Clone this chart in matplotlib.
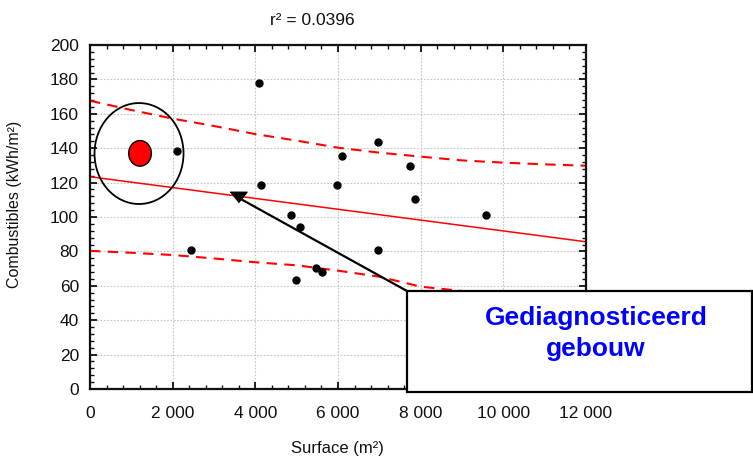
import matplotlib
matplotlib.use("Agg")
import matplotlib.pyplot as plt
from matplotlib.patches import Ellipse, Rectangle, ConnectionPatch
from matplotlib.ticker import MultipleLocator, FixedLocator, FixedFormatter

plt.rcParams['font.family'] = ['Liberation Sans', 'DejaVu Sans']

# ---- data ----
surface = [2100, 2450, 4100, 4140, 4860, 4980, 5070, 5460, 5610, 5980, 6100, 6970, 6970, 7740, 7870, 9590]
combustibles = [138.6, 80.8, 178.1, 118.4, 101.0, 63.4, 94.4, 70.2, 68.2, 118.4, 135.7, 143.4, 80.8, 129.8, 110.5, 101.0]

highlight_x = [1210]
highlight_y = [137]

fit_x = [0, 12000]
fit_y = [123.4, 85.6]

band_x = [0, 1000, 2000, 3000, 4000, 5000, 6000, 7000, 8000, 9000, 10000, 11000, 12000]
band_upper = [167.6, 162.2, 157.2, 152.9, 148.2, 144.4, 140.3, 137.4, 135.1, 132.9, 131.6, 130.6, 129.8]
band_lower = [80.3, 79.2, 77.9, 75.9, 73.7, 71.9, 68.8, 65.3, 59.5, 57.0, 54.0, 49.0, 41.5]

arrow_tip = (3569, 111.5)

x_ticks = [0, 2000, 4000, 6000, 8000, 10000, 12000]
x_ticklabels = ["0", "2 000", "4 000", "6 000", "8 000", "10 000", "12 000"]
y_ticks = [0, 20, 40, 60, 80, 100, 120, 140, 160, 180, 200]

title_text = "r\u00b2 = 0.0396"
xlabel_text = "Surface (m\u00b2)"
ylabel_text = "Combustibles (kWh/m\u00b2)"
box_lines = ["Gediagnosticeerd", "gebouw"]

# ---- figure ----
W, H = 753, 457
fig = plt.figure(figsize=(W / 100, H / 100), dpi=100)
ax = fig.add_axes([90 / W, 1 - 389 / H, (586 - 90) / W, (389 - 45) / H])

ax.set_xlim(0, 12000)
ax.set_ylim(0, 200)

ax.xaxis.set_major_locator(FixedLocator(x_ticks))
ax.xaxis.set_major_formatter(FixedFormatter(x_ticklabels))
ax.yaxis.set_major_locator(FixedLocator(y_ticks))
ax.xaxis.set_minor_locator(MultipleLocator(400))
ax.yaxis.set_minor_locator(MultipleLocator(4))

ax.tick_params(which='both', direction='in', top=True, right=True, labelsize=12.5, colors='#111111')
ax.tick_params(which='major', length=5, width=1.3)
ax.tick_params(which='minor', length=3, width=1.0)
ax.tick_params(axis='x', which='major', pad=12)
ax.tick_params(axis='y', which='major', pad=8)

for s in ax.spines.values():
    s.set_linewidth(1.6)
    s.set_color('#111111')

ax.grid(True, which='major', color='#c4c4c4', linestyle=(0, (1.5, 1.5)), linewidth=0.8)
ax.set_axisbelow(True)

# bands and fit
ax.plot(band_x, band_upper, color='red', lw=1.5, dashes=(5, 3.5), zorder=2)
ax.plot(band_x, band_lower, color='red', lw=1.5, dashes=(5, 3.5), zorder=2)
ax.plot(fit_x, fit_y, color='red', lw=1.1, zorder=2)

# points
ax.plot(surface, combustibles, 'o', color='black', ms=5, zorder=3)

# highlighted building
ax.add_patch(Ellipse((highlight_x[0], highlight_y[0]), 549, 14.9, facecolor='red',
                     edgecolor='black', lw=1.0, zorder=4))
ax.add_patch(Ellipse((1186, 136.9), 2153, 58.7, facecolor='none',
                     edgecolor='black', lw=1.3, zorder=4))

# annotation box
bx0, by0 = 407 / W, 1 - 392 / H
bw, bh = (752 - 407) / W, (392 - 291) / H
con = ConnectionPatch(xyA=(bx0, by0 + bh), coordsA=fig.transFigure,
                      xyB=arrow_tip, coordsB=ax.transData,
                      color='black', lw=1.6, zorder=5)
fig.add_artist(con)
ax.plot([arrow_tip[0]], [arrow_tip[1]], marker=[(-1, 0.62), (1, 0.62), (0, -0.62)],
        color='black', ms=12.2, clip_on=False, zorder=6)

rect = Rectangle((bx0, by0), bw, bh, transform=fig.transFigure, facecolor='white',
                 edgecolor='black', lw=1.6, zorder=6)
fig.add_artist(rect)
fig.text(596 / W, 1 - 318 / H, box_lines[0], ha='center', va='center', color='#0000ff',
         fontsize=19, fontweight='bold', zorder=7)
fig.text(596 / W, 1 - 349 / H, box_lines[1], ha='center', va='center', color='#0000ff',
         fontsize=19, fontweight='bold', zorder=7)

# titles
fig.text(312.5 / W, 1 - 20.7 / H, title_text, ha='center', va='center', fontsize=12.5, color='#111111')
fig.text(337 / W, 1 - 449 / H, xlabel_text, ha='center', va='center', fontsize=12, color='#111111')
fig.text(15 / W, 1 - 204 / H, ylabel_text, ha='center', va='center', rotation=90, fontsize=11.5, color='#111111')

fig.savefig('out.png', dpi=100)
